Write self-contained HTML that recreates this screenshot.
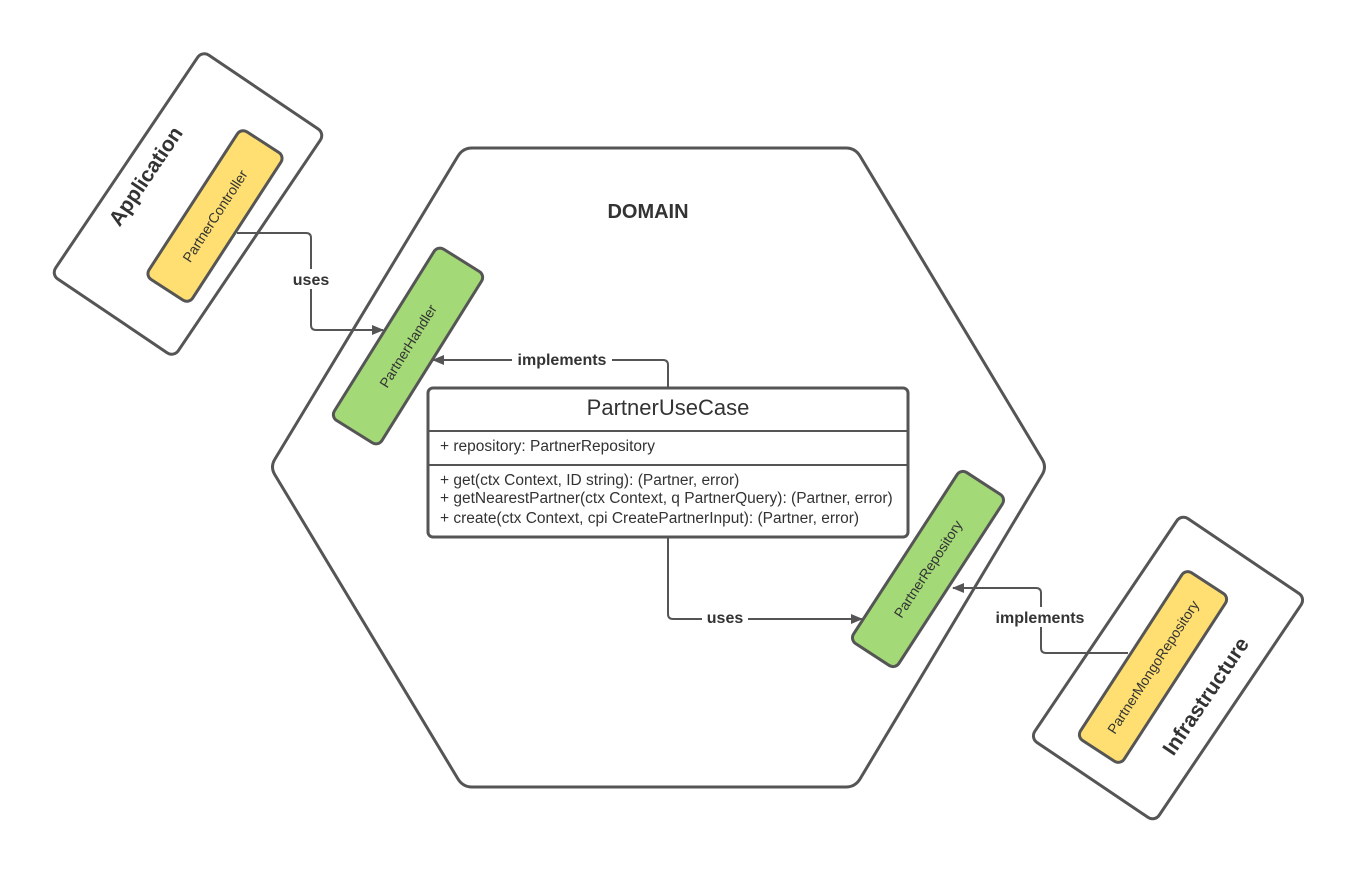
<!DOCTYPE html>
<html><head><meta charset="utf-8"><style>
html,body{margin:0;padding:0;background:#fff;}
svg{display:block;font-family:"Liberation Sans",Arial,sans-serif;}
</style></head><body>
<svg width="1355" height="874" viewBox="0 0 1355 874" xmlns="http://www.w3.org/2000/svg">
<defs>
<marker id="ah" markerWidth="12" markerHeight="10" refX="11" refY="5" orient="auto" markerUnits="userSpaceOnUse">
<path d="M0,0 L12,5 L0,10 z" fill="#555"/>
</marker>
</defs>
<path d="M472,148 L846,148 Q855,148 860,156 L1042,459 Q1047,467 1042,475 L860,779 Q855,787 846,787 L472,787 Q463,787 458,779 L275,475 Q270,467 275,459 L458,156 Q463,148 472,148 Z" fill="#fff" stroke="#555" stroke-width="3"/>
<text x="648" y="218" font-size="20" font-weight="bold" fill="#333" text-anchor="middle">DOMAIN</text>

<g transform="translate(188,204) rotate(-56)">
<rect x="-135" y="-74" width="270" height="148" rx="8" fill="#fff" stroke="#555" stroke-width="3"/>
</g>
<text transform="translate(147,177) rotate(-56)" font-size="21" font-weight="bold" fill="#333" text-anchor="middle" dominant-baseline="middle">Application</text>
<g transform="translate(215,216) rotate(-57)">
<rect x="-88" y="-26" width="176" height="52" rx="7" fill="#ffdf71" stroke="#555" stroke-width="3"/>
<text x="0" y="5" font-size="14" fill="#333" text-anchor="middle">PartnerController</text>
</g>

<g transform="translate(1168,668) rotate(-56)">
<rect x="-135" y="-75" width="270" height="150" rx="8" fill="#fff" stroke="#555" stroke-width="3"/>
</g>
<text transform="translate(1207,697) rotate(-56)" font-size="21" font-weight="bold" fill="#333" text-anchor="middle" dominant-baseline="middle">Infrastructure</text>
<g transform="translate(1153,667) rotate(-57)">
<rect x="-100" y="-26" width="200" height="52" rx="7" fill="#ffdf71" stroke="#555" stroke-width="3"/>
<text x="0" y="5" font-size="14" fill="#333" text-anchor="middle">PartnerMongoRepository</text>
</g>

<g transform="translate(408,346) rotate(-58)">
<rect x="-101" y="-28" width="202" height="56" rx="7" fill="#a3d977" stroke="#555" stroke-width="3"/>
<text x="0" y="5" font-size="14" fill="#333" text-anchor="middle">PartnerHandler</text>
</g>
<g transform="translate(928,569) rotate(-57)">
<rect x="-102" y="-27" width="204" height="54" rx="7" fill="#a3d977" stroke="#555" stroke-width="3"/>
<text x="0" y="5" font-size="14" fill="#333" text-anchor="middle">PartnerRepository</text>
</g>

<rect x="428" y="388" width="480" height="149" rx="5" fill="#fff" stroke="#555" stroke-width="3"/>
<line x1="428" y1="431" x2="908" y2="431" stroke="#555" stroke-width="2"/>
<line x1="428" y1="465" x2="908" y2="465" stroke="#555" stroke-width="2"/>
<text x="668" y="415" font-size="22" fill="#333" text-anchor="middle">PartnerUseCase</text>
<text x="440" y="451" font-size="15.5" fill="#333">+ repository: PartnerRepository</text>
<text x="440" y="485" font-size="15.5" fill="#333">+ get(ctx Context, ID string): (Partner, error)</text>
<text x="440" y="503" font-size="15.5" fill="#333">+ getNearestPartner(ctx Context, q PartnerQuery): (Partner, error)</text>
<text x="440" y="523" font-size="15.5" fill="#333">+ create(ctx Context, cpi CreatePartnerInput): (Partner, error)</text>

<g fill="none" stroke="#555" stroke-width="2">
<path d="M237,233 L306,233 Q311,233 311,238 L311,325 Q311,330 316,330 L383,330" marker-end="url(#ah)"/>
<path d="M668,388 L668,365 Q668,360 663,360 L433,360" marker-end="url(#ah)"/>
<path d="M668,537 L668,614 Q668,619 673,619 L862,619" marker-end="url(#ah)"/>
<path d="M1128,653 L1046,653 Q1041,653 1041,648 L1041,593 Q1041,588 1036,588 L953,588" marker-end="url(#ah)"/>
</g>
<g font-size="16" font-weight="bold" fill="#333" text-anchor="middle">
<rect x="288" y="269" width="46" height="20" fill="#fff"/>
<text x="311" y="285">uses</text>
<rect x="512" y="350" width="100" height="20" fill="#fff"/>
<text x="562" y="365">implements</text>
<rect x="702" y="607" width="46" height="20" fill="#fff"/>
<text x="725" y="623">uses</text>
<rect x="990" y="607" width="100" height="20" fill="#fff"/>
<text x="1040" y="623">implements</text>
</g>
</svg>
</body></html>
